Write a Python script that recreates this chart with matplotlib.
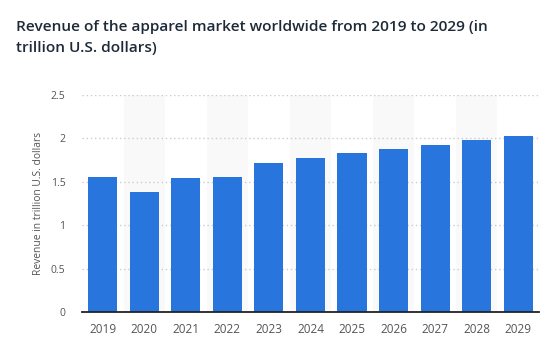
import matplotlib
matplotlib.use("Agg")
import matplotlib.pyplot as plt

# Data
years = ["2019", "2020", "2021", "2022", "2023", "2024", "2025", "2026", "2027", "2028", "2029"]
revenue = [1.555, 1.383, 1.544, 1.555, 1.716, 1.773, 1.831, 1.877, 1.923, 1.98, 2.026]
y_ticks = [0, 0.5, 1, 1.5, 2, 2.5]
y_tick_labels = ["0", "0.5", "1", "1.5", "2", "2.5"]

BAR_COLOR = "#2876dd"
TEXT_GRAY = "#555555"

plt.rcParams["font.family"] = ["Open Sans", "DejaVu Sans"]

fig = plt.figure(figsize=(5.6, 3.59), dpi=100)
ax = fig.add_axes([0.1464, 0.130, 0.8161, 0.606])

x = list(range(len(years)))

# alternating background bands
for i in x:
    if i % 2 == 1:
        ax.axvspan(i - 0.5, i + 0.5, color="#f9f9f9", zorder=0, lw=0)

ax.bar(x, revenue, width=0.7, color=BAR_COLOR, zorder=3)

ax.set_xlim(-0.5, len(years) - 0.5)
ax.set_ylim(0, 2.5)
ax.set_yticks(y_ticks)
ax.set_yticklabels(y_tick_labels)
ax.set_xticks(x)
ax.set_xticklabels(years)

ax.grid(axis="y", linestyle=(0, (1, 2)), color="#cccccc", linewidth=1, zorder=1)
ax.set_axisbelow(True)

for side in ["top", "right", "left"]:
    ax.spines[side].set_visible(False)
ax.spines["bottom"].set_color("#222222")
ax.spines["bottom"].set_linewidth(1.3)
ax.spines["bottom"].set_zorder(4)

ax.tick_params(axis="y", length=0, pad=12, labelsize=7.5, labelcolor=TEXT_GRAY)
ax.tick_params(axis="x", length=0, pad=8, labelsize=8.5, labelcolor=TEXT_GRAY)

ax.set_ylabel("Revenue in trillion U.S. dollars", fontsize=7.4, color=TEXT_GRAY, labelpad=5)

fig.text(0.029, 0.944, "Revenue of the apparel market worldwide from 2019 to 2029 (in\ntrillion U.S. dollars)",
         fontsize=11.1, fontweight="semibold", color="#1e2a38", ha="left", va="top",
         linespacing=1.6)

fig.savefig("out.png", dpi=100)
